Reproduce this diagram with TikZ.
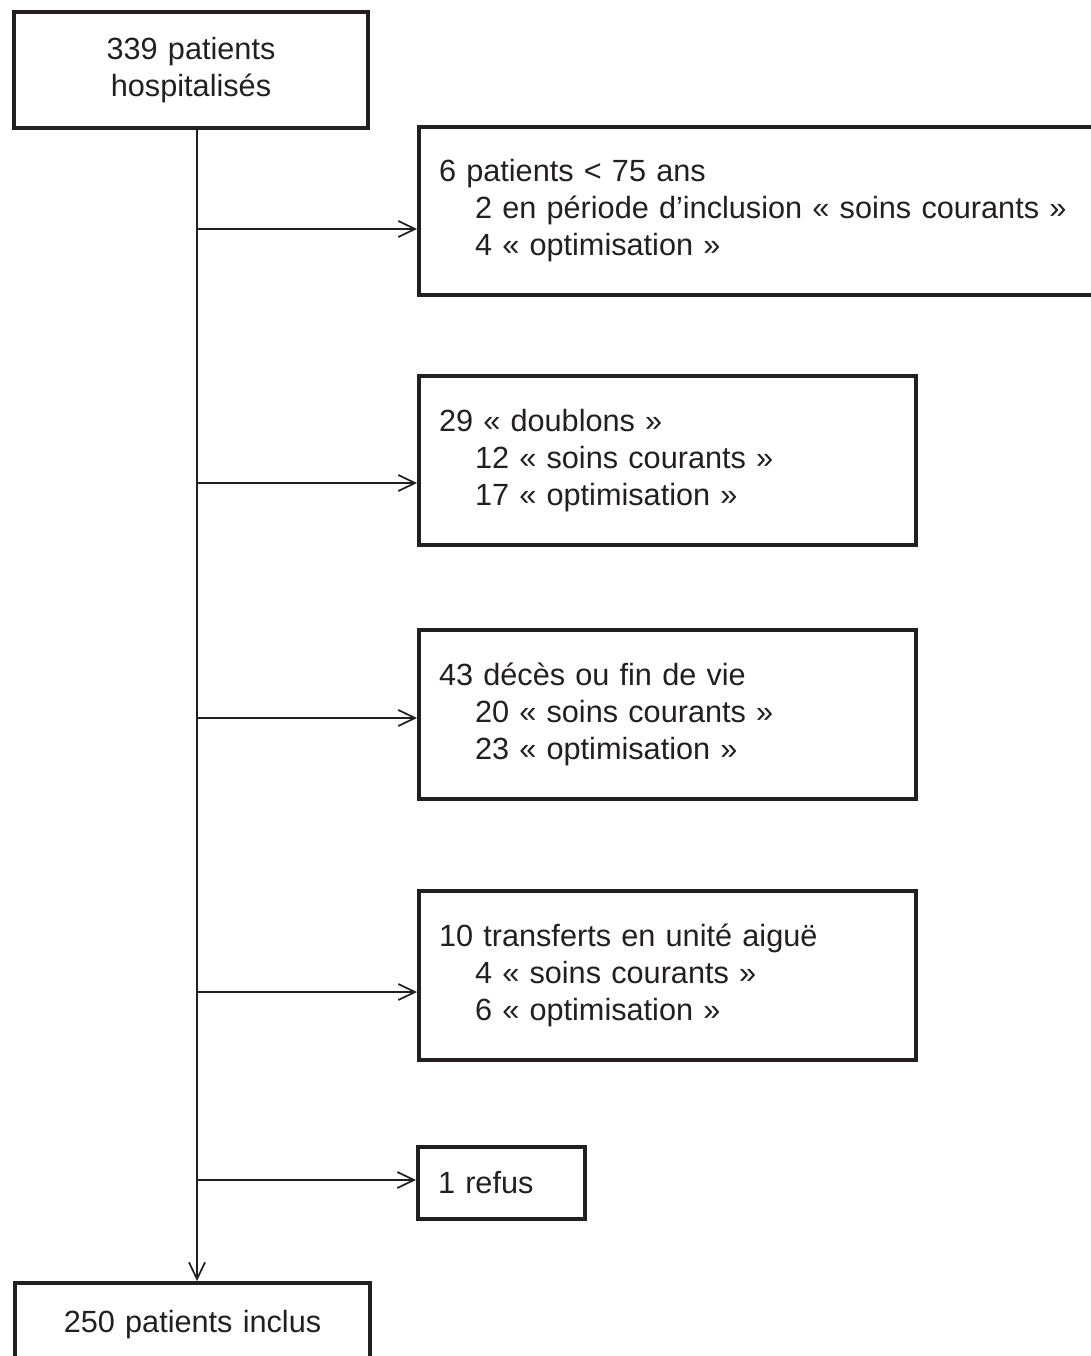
\documentclass[tikz,border=0pt]{standalone}
\usepackage{fontspec}
\setmainfont{Liberation Sans}
\usetikzlibrary{arrows.meta}
\definecolor{ink}{HTML}{231F20}
\begin{document}
\begin{tikzpicture}[x=0.75pt,y=-0.75pt,
  box/.style={draw=ink, line width=3pt, rectangle, inner ysep=0pt, inner xsep=15pt,
    text=ink, font=\fontsize{23pt}{27.75pt}\selectfont, anchor=north west},
  lbox/.style={box, align=left},
  cbox/.style={box, align=center},
  arr/.style={draw=ink, line width=1.5pt, -{Straight Barb[length=12.5pt,width=12pt,line width=1.3pt]}}
]
\useasboundingbox (0,0) rectangle (1091,1356);
\newcommand{\ind}{\hspace*{27pt}}
% top and bottom
\node[cbox, minimum width=265.5pt, minimum height=87pt, text width=235.5pt] (top) at (12,10)
  {339 patients\\hospitalisés};
\node[cbox, minimum width=266.25pt, minimum height=63pt, text width=236.25pt] (bot) at (13,1281)
  {250 patients inclus};
% exclusion boxes
\node[lbox, minimum width=519.75pt, minimum height=126pt, text width=520pt] (b1) at (417,125)
  {6 patients < 75 ans\\\ind 2 en période d’inclusion « soins courants »\\\ind 4 « optimisation »};
\node[lbox, minimum width=372.75pt, minimum height=126.75pt, text width=342.75pt] (b2) at (417,374)
  {29 « doublons »\\\ind 12 « soins courants »\\\ind 17 « optimisation »};
\node[lbox, minimum width=372.75pt, minimum height=126.75pt, text width=342.75pt] (b3) at (417,628)
  {43 décès ou fin de vie\\\ind 20 « soins courants »\\\ind 23 « optimisation »};
\node[lbox, minimum width=372.75pt, minimum height=126.75pt, text width=342.75pt] (b4) at (417,889)
  {10 transferts en unité aiguë\\\ind 4 « soins courants »\\\ind 6 « optimisation »};
\node[lbox, minimum width=125.25pt, minimum height=54pt, text width=95.25pt] (b5) at (416,1145)
  {1 refus};
% trunk
\draw[arr] (top.south -| 197,0) -- (bot.north -| 197,0);
\coordinate (t1) at (197,229);
\coordinate (t2) at (197,483);
\coordinate (t3) at (197,718);
\coordinate (t4) at (197,992);
\coordinate (t5) at (197,1180);
\draw[arr] (t1) -- (t1 -| b1.west);
\draw[arr] (t2) -- (t2 -| b2.west);
\draw[arr] (t3) -- (t3 -| b3.west);
\draw[arr] (t4) -- (t4 -| b4.west);
\draw[arr] (t5) -- (t5 -| b5.west);
\end{tikzpicture}
\end{document}
